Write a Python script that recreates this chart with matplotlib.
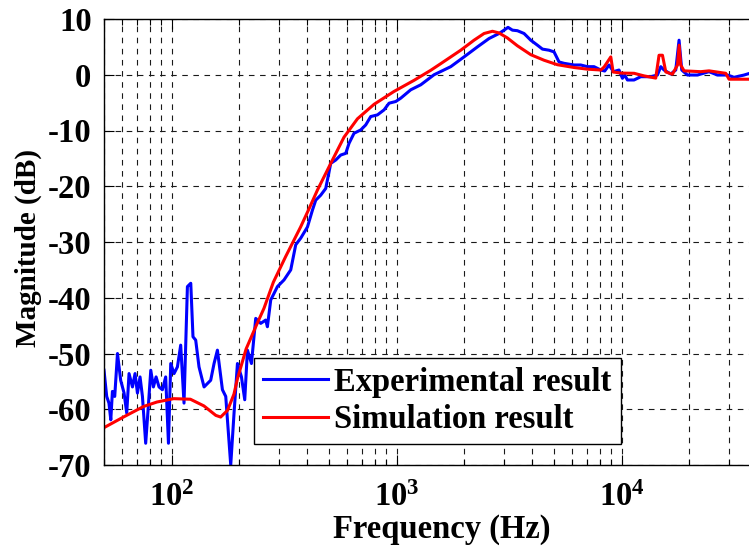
import matplotlib
matplotlib.use("Agg")
import matplotlib.pyplot as plt
from matplotlib.ticker import LogLocator, NullFormatter

exp_freq = [50, 51.4, 52.6, 53.6, 54.5, 55.8, 57.4, 59.3, 61.4, 63.1, 64.6, 66.9,
            68.7, 70.4, 72.3, 74.1, 76.6, 78.5, 80.7, 82.9, 85.2, 87.8, 90.9, 94.0,
            96.7, 99.0, 102.4, 106.0, 109.6, 113.4, 117.4, 121.5, 124.3, 127.8, 132.2,
            139.2, 149.0, 154.2, 159.6, 168.0, 173.8, 182.9, 189.2, 195.9, 204.1,
            211.1, 217.0, 226.1, 236.2, 248.6, 261.6, 266.2, 275.4, 295.0, 315.6,
            338.0, 355.7, 374.5, 401.1, 421.9, 436.5, 459.4, 483.5, 508.9, 535.6,
            563.8, 593.4, 613.8, 645.9, 691.8, 728.1, 766.3, 820.9, 878.4, 924.5,
            989.9, 1042, 1154, 1279, 1465, 1738, 1991, 2284, 2572, 2849, 2999, 3124,
            3268, 3439, 3680, 3941, 4221, 4443, 4753, 5002, 5264, 5541, 6138, 6575,
            7040, 7533, 8067, 8403, 8783, 9186, 9727, 10072, 10311, 10600, 11340,
            12150, 13460, 14410, 14910, 15420, 16510, 17380, 17980, 18480, 19590,
            21700, 24430, 26630, 29500, 31560, 34970, 37070]
exp_mag = [-53.0, -57.7, -58.9, -61.9, -56.8, -57.7, -50.0, -54.8, -57.1, -60.7,
           -53.6, -56.0, -53.6, -57.1, -54.2, -57.7, -66.1, -60.1, -53.0, -56.0,
           -54.2, -56.0, -56.5, -54.2, -66.1, -51.8, -53.6, -52.4, -48.5, -58.9,
           -38.0, -37.4, -47.0, -47.6, -52.4, -56.0, -54.8, -51.8, -49.4, -56.5,
           -57.7, -70.0, -60.7, -51.8, -54.2, -58.3, -49.4, -51.8, -43.7, -44.6,
           -44.0, -45.2, -40.4, -38.0, -36.8, -35.0, -30.5, -29.3, -27.3, -24.3,
           -22.5, -21.6, -20.4, -15.9, -15.3, -14.4, -14.1, -12.3, -10.5, -9.9,
           -9.0, -7.5, -7.2, -6.3, -5.1, -4.8, -4.2, -2.7, -1.8, 0.0, 1.45, 3.2,
           5.0, 6.5, 7.4, 8.0, 8.5, 8.0, 7.9, 7.4, 6.2, 5.3, 4.6, 4.4, 4.1, 2.3,
           2.05, 1.75, 1.75, 1.45, 1.45, 0.85, 0.67, 1.75, 0.55, 0.85, -0.64,
           -0.05, -0.94, -0.94, -0.35, -0.35, -0.05, 1.45, 0.85, 0.13, 0.85, 6.2,
           0.85, -0.05, -0.05, 0.55, -0.05, -0.05, -0.46, -0.05, 0.26]

# Simulation result (red)
sim_freq = [50, 61, 75, 86, 102, 121, 139, 157, 165, 177, 189, 196, 214, 238, 257,
            283, 321, 374, 408, 444, 509, 583, 669, 793, 972, 1194, 1416, 1570,
            1925, 2206, 2444, 2663, 2849, 3103, 3437, 3943, 4518, 5178, 6139, 7040,
            8074, 8354, 8940, 9155, 9906, 11345, 12560, 14160, 14650, 15170, 15700,
            16800, 17700, 17990, 18290, 18920, 22440, 24440, 28980, 29990, 37070]
sim_mag = [-63.3, -61.4, -59.5, -58.7, -58.1, -58.2, -59.4, -61.1, -61.4, -60.2,
           -57.3, -54.5, -49.2, -44.9, -41.9, -37.2, -32.6, -27.3, -24.0, -20.7,
           -15.9, -11.2, -7.9, -5.3, -3.0, -1.0, 0.8, 2.0, 4.4, 6.2, 7.4, 7.8, 7.5,
           6.6, 5.2, 3.6, 2.6, 1.8, 1.3, 1.0, 0.85, 1.4, 3.2, 0.5, 0.3, 0.26, -0.2,
           -0.6, 3.5, 3.5, 0.5, 0.1, 1.75, 5.3, 1.75, 0.7, 0.55, 0.7, 0.26, -0.8, -0.8]

y_ticks = [-70, -60, -50, -40, -30, -20, -10, 0, 10]

plt.rcParams['font.family'] = ['Liberation Serif', 'DejaVu Serif']
plt.rcParams['font.weight'] = 'bold'
plt.rcParams['font.size'] = 23.5
plt.rcParams['axes.unicode_minus'] = False
plt.rcParams['mathtext.fontset'] = 'custom'
plt.rcParams['mathtext.rm'] = 'Liberation Serif:bold'
plt.rcParams['mathtext.bf'] = 'Liberation Serif:bold'

fig = plt.figure(figsize=(7.49, 5.49), dpi=100)
# axes run past the right edge, like the cropped original
ax = fig.add_axes([104 / 749, 84 / 549, 675 / 749, 446 / 549])

ax.semilogx(exp_freq, exp_mag, color='#0000ff', lw=2.2, label='Experimental result')
ax.semilogx(sim_freq, sim_mag, color='#ff0000', lw=2.2, label='Simulation result')

ax.set_xlim(50, 50000)
ax.set_ylim(-70, 10)
ax.set_yticks(y_ticks)
ax.xaxis.set_major_locator(LogLocator(base=10, numticks=10))
ax.xaxis.set_minor_locator(LogLocator(base=10, subs=range(2, 10), numticks=20))
ax.xaxis.set_minor_formatter(NullFormatter())

grid_style = dict(color='0.1', linestyle=(0, (5, 5)), linewidth=0.8)
ax.grid(True, which='major', axis='both', **grid_style)
ax.grid(True, which='minor', axis='x', **grid_style)

ax.tick_params(which='both', direction='in', top=True, right=False, width=0.8)
ax.tick_params(which='major', length=7)
ax.tick_params(which='minor', length=4)
ax.tick_params(axis='y', pad=9)
ax.tick_params(axis='x', pad=12)
for sp in ax.spines.values():
    sp.set_linewidth(1.0)

ax.set_xlabel('Frequency (Hz)', fontweight='bold')
ax.set_ylabel('Magnitude (dB)', fontweight='bold', fontsize=21)
ax.xaxis.set_label_coords(0.5, -0.11)
ax.yaxis.set_label_coords(-0.092, 0.487)

leg = ax.legend(loc='lower left', bbox_to_anchor=(0.222, 0.047), borderaxespad=0,
                fancybox=False, framealpha=1, edgecolor='k', handlelength=2.0,
                handletextpad=0.2, borderpad=0.27, labelspacing=0.2)
leg.get_frame().set_linewidth(1.0)

fig.savefig('out.png', dpi=100)
